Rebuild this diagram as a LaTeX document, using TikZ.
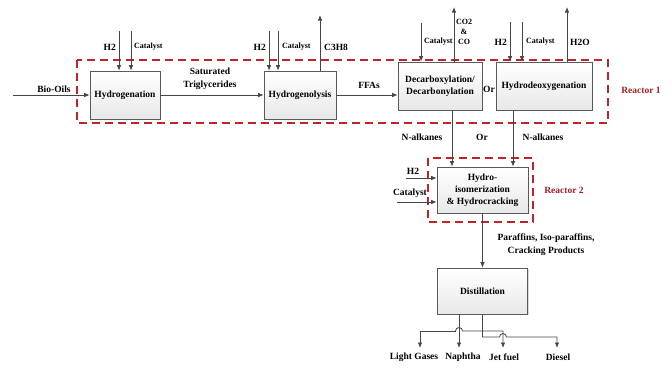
\documentclass[tikz,border=0pt]{standalone}
\usepackage{fontspec}
\setmainfont{Liberation Serif}
\usetikzlibrary{arrows.meta,shadows}
\definecolor{rxred}{RGB}{192,36,40}
\definecolor{lncol}{RGB}{70,70,70}
\tikzset{
	procbox/.style={draw=gray!70!black, top color=white, bottom color=gray!18, line width=0.6pt, minimum height=48pt, align=center, font=\bfseries\fontsize{9.5}{12}\selectfont, drop shadow={shadow xshift=1.2pt, shadow yshift=-1.2pt, opacity=0.3}},
	flow/.style={draw=lncol, line width=0.8pt, -{Latex[length=5.5pt,width=4.5pt]}},
	reactor/.style={draw=rxred, line width=1.7pt, dash pattern=on 8pt off 5pt},
	lbl/.style={font=\bfseries\fontsize{9.5}{13}\selectfont, inner sep=1pt, align=center},
	smalltxt/.style={font=\bfseries\fontsize{8}{10}\selectfont, inner sep=1pt, align=center},
	rlbl/.style={lbl, text=rxred!85!black}
}
\begin{document}
\begin{tikzpicture}[x=1pt,y=-1pt]
	\useasboundingbox (0,0) rectangle (672,367);
	\draw [reactor] (77,60) rectangle (608,123);
	\draw [reactor] (428,158) rectangle (533,222);
	\node (hydg) at (125,95) [procbox, minimum width=70pt] {Hydrogenation};
	\node (hydl) at (300,95) [procbox, minimum width=72pt] {Hydrogenolysis};
	\node (decarb) at (440,86) [procbox, minimum width=84pt] {Decarboxylation/\\Decarbonylation};
	\node (hdo) at (544,86) [procbox, minimum width=96pt] {Hydrodeoxygenation};
	\node (hisom) at (482.5,190) [procbox, minimum width=91pt, minimum height=46pt] {Hydro-\\isomerization\\\& Hydrocracking};
	\node (dist) at (482.5,291) [procbox, minimum width=90pt, minimum height=46pt] {Distillation};
	\node (rx1) at (641,90) [rlbl] {Reactor 1};
	\node (rx2) at (564,190) [rlbl] {Reactor 2};
	\coordinate (bio) at (13,95);
	\draw [flow] (bio) -- (hydg.west);
	\node (biolbl) at (54,89) [lbl] {Bio-Oils};
	\coordinate (h2a) at (119,31);
	\coordinate (cata) at (131,31);
	\draw [flow] (h2a) -- (h2a |- hydg.north);
	\draw [flow] (cata) -- (cata |- hydg.north);
	\node (h2alb) at (117,47) [lbl, anchor=east] {H2};
	\node (catalb) at (133,47) [smalltxt, anchor=west] {Catalyst};
	\draw [flow] (hydg.east) -- (hydl.west);
	\node (satlb) at (210,79) [lbl] {Saturated\\Triglycerides};
	\coordinate (h2b) at (269,31);
	\coordinate (catb) at (278,31);
	\coordinate (c3h8) at (320,15);
	\draw [flow] (h2b) -- (h2b |- hydl.north);
	\draw [flow] (catb) -- (catb |- hydl.north);
	\draw [flow] (c3h8 |- hydl.north) -- (c3h8);
	\node (h2blb) at (267,47) [lbl, anchor=east] {H2};
	\node (catblb) at (281,47) [smalltxt, anchor=west] {Catalyst};
	\node (c3lb) at (323,47) [lbl, anchor=west] {C3H8};
	\draw [flow] (hydl.east) -- (hydl.east -| decarb.west);
	\node (ffalb) at (369,85) [lbl] {FFAs};
	\coordinate (catc) at (421,23);
	\coordinate (coout) at (454,7);
	\draw [flow] (catc) -- (catc |- decarb.north);
	\draw [flow] (coout |- decarb.north) -- (coout);
	\node (catclb) at (423,42) [smalltxt, anchor=west] {Catalyst};
	\node (colb) at (464,32) [smalltxt] {CO2\\\&\\CO};
	\node (orlb) at (489,89) [lbl, inner sep=0pt] {Or};
	\coordinate (h2d) at (510,22);
	\coordinate (catd) at (522,22);
	\coordinate (h2oout) at (567,7);
	\draw [flow] (h2d) -- (h2d |- hdo.north);
	\draw [flow] (catd) -- (catd |- hdo.north);
	\draw [flow] (h2oout |- hdo.north) -- (h2oout);
	\node (h2dlb) at (508,42) [lbl, anchor=east] {H2};
	\node (catdlb) at (525,42) [smalltxt, anchor=west] {Catalyst};
	\node (h2olb) at (569,42) [lbl, anchor=west] {H2O};
	\coordinate (na1) at ([xshift=12pt]decarb.south);
	\coordinate (na2) at ([xshift=-31pt]hdo.south);
	\draw [flow] (na1) -- (na1 |- hisom.north);
	\draw [flow] (na2) -- (na2 |- hisom.north);
	\node (na1lb) at (422,137) [lbl] {N-alkanes};
	\node (or2lb) at (482,137) [lbl] {Or};
	\node (na2lb) at (543,137) [lbl] {N-alkanes};
	\coordinate (h2e) at (406,178);
	\coordinate (cate) at (397,202);
	\draw [flow] (h2e) -- (h2e -| hisom.west);
	\draw [flow] (cate) -- (cate -| hisom.west);
	\node (h2elb) at (413,171) [lbl] {H2};
	\node (catelb) at (410,193) [lbl] {Catalyst};
	\draw [flow] (hisom.south) -- (dist.north);
	\node (parlb) at (546,245) [lbl] {Paraffins, Iso-paraffins,\\Cracking Products};
	\coordinate (da) at ([xshift=-23.5pt]dist.south);
	\coordinate (ja) at (455.5,331);
	\coordinate (jb) at (499.5,337);
	\coordinate (lg) at (420,348);
	\coordinate (np) at (da |- lg);
	\coordinate (jf) at (503,348);
	\coordinate (ds) at (557,348);
	\draw [flow] (da) -- (np);
	\draw [flow] (ja) -| (lg);
	\draw [flow] (ja) arc [start angle=180, end angle=360, radius=3.5] -| (jf);
	\draw [flow] (dist.south) |- (jb) arc [start angle=180, end angle=360, radius=3.5] -| (ds);
	\node (lglb) at (414,357) [lbl] {Light Gases};
	\node (nplb) at (463,357) [lbl] {Naphtha};
	\node (jflb) at (504,357) [lbl] {Jet fuel};
	\node (dslb) at (558,357) [lbl] {Diesel};
\end{tikzpicture}
\end{document}
